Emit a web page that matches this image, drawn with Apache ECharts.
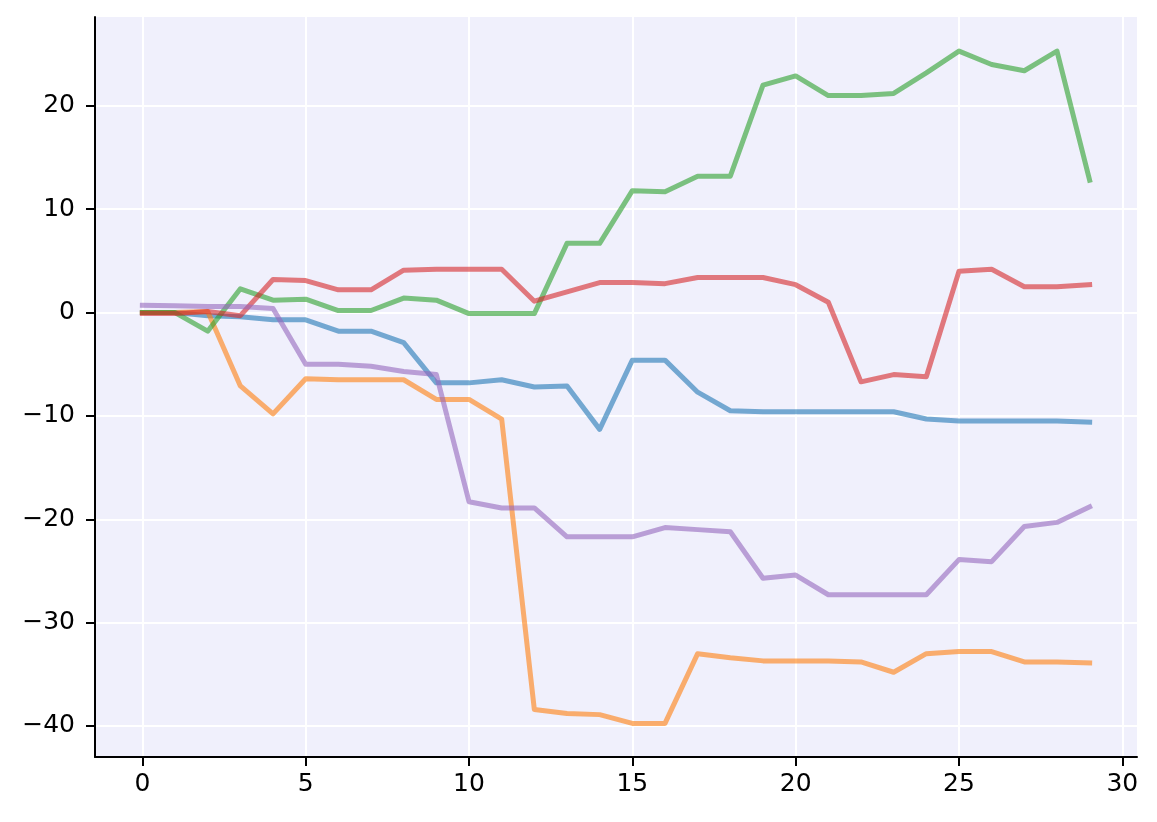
<!DOCTYPE html>
<html>
<head>
<meta charset="utf-8">
<script src="https://cdn.jsdelivr.net/npm/echarts@6/dist/echarts.min.js"></script>
<style>
    html, body { margin: 0; padding: 0; background: #ffffff; }
    #container { width: 1157px; height: 822px; }
</style>
</head>
<body>
<div id="container"></div>
<script>
    // x positions 0..29
    var steps = [];
    for (var i = 0; i < 30; i++) steps.push(i);

    var blueVals = [0, 0, -0.3, -0.4, -0.7, -0.7, -1.8, -1.8, -2.9, -6.8,
        -6.8, -6.5, -7.2, -7.1, -11.3, -4.6, -4.6, -7.7, -9.5, -9.6,
        -9.6, -9.6, -9.6, -9.6, -10.3, -10.5, -10.5, -10.5, -10.5, -10.6];
    var orangeVals = [0, 0, 0.1, -7.1, -9.8, -6.4, -6.5, -6.5, -6.5, -8.4,
        -8.4, -10.3, -38.4, -38.8, -38.9, -39.75, -39.75, -33.0, -33.4, -33.7,
        -33.7, -33.7, -33.8, -34.8, -33.0, -32.8, -32.8, -33.8, -33.8, -33.9];
    var greenVals = [0, 0, -1.8, 2.3, 1.2, 1.3, 0.2, 0.2, 1.4, 1.2,
        -0.1, -0.1, -0.1, 6.7, 6.7, 11.8, 11.7, 13.2, 13.2, 22.0,
        22.9, 21.0, 21.0, 21.2, 23.2, 25.3, 24.0, 23.4, 25.3, 12.8];
    var redVals = [-0.1, -0.1, 0.1, -0.3, 3.2, 3.1, 2.2, 2.2, 4.1, 4.2,
        4.2, 4.2, 1.1, 2.0, 2.9, 2.9, 2.8, 3.4, 3.4, 3.4,
        2.7, 1.0, -6.7, -6.0, -6.2, 4.0, 4.2, 2.5, 2.5, 2.7];
    var purpleVals = [0.7, 0.65, 0.6, 0.6, 0.4, -5.0, -5.0, -5.2, -5.7, -6.0,
        -18.3, -18.9, -18.9, -21.7, -21.7, -21.7, -20.8, -21.0, -21.2, -25.7,
        -25.4, -27.3, -27.3, -27.3, -27.3, -23.9, -24.1, -20.7, -20.3, -18.8];

    var xTicks = [0, 5, 10, 15, 20, 25, 30];
    var yTicks = [-40, -30, -20, -10, 0, 10, 20];

    var colors = ['#1f77b4', '#ff7f0e', '#2ca02c', '#d62728', '#9467bd'];
    var allVals = [blueVals, orangeVals, greenVals, redVals, purpleVals];

    function pairs(vals) {
        return steps.map(function (x, i) { return [x, vals[i]]; });
    }
    function fmt(v) {
        return String(v).replace('-', '\u2212');
    }

    var axisFont = { fontFamily: 'DejaVu Sans', fontSize: 25, color: '#000' };

    var myChart = echarts.init(document.getElementById('container'));
    var option = {
        animation: false,
        backgroundColor: '#ffffff',
        grid: {
            left: 95, top: 17, right: 20, bottom: 65,
            show: true,
            backgroundColor: '#f0f0fc',
            borderWidth: 0
        },
        xAxis: {
            type: 'value',
            min: -1.45,
            max: 30.45,
            axisLine: { show: true, onZero: false, lineStyle: { color: '#000', width: 2 } },
            axisTick: { show: true, length: 9, lineStyle: { color: '#000', width: 2 }, customValues: xTicks },
            axisLabel: Object.assign({ margin: 15, formatter: fmt, customValues: xTicks }, axisFont),
            splitLine: { show: true, lineStyle: { color: '#ffffff', width: 2 } }
        },
        yAxis: {
            type: 'value',
            min: -43.0,
            max: 28.6,
            axisLine: { show: true, onZero: false, lineStyle: { color: '#000', width: 2 } },
            axisTick: { show: true, length: 9, lineStyle: { color: '#000', width: 2 }, customValues: yTicks },
            axisLabel: Object.assign({ margin: 20, formatter: fmt, customValues: yTicks }, axisFont),
            splitLine: { show: true, lineStyle: { color: '#ffffff', width: 2 } }
        },
        series: allVals.map(function (vals, k) {
            return {
                type: 'line',
                data: pairs(vals),
                showSymbol: false,
                symbol: 'none',
                lineStyle: { color: colors[k], width: 5, opacity: 0.6, cap: 'square', join: 'round' },
                z: 3 + k
            };
        })
    };
    myChart.setOption(option);
</script>
</body>
</html>
